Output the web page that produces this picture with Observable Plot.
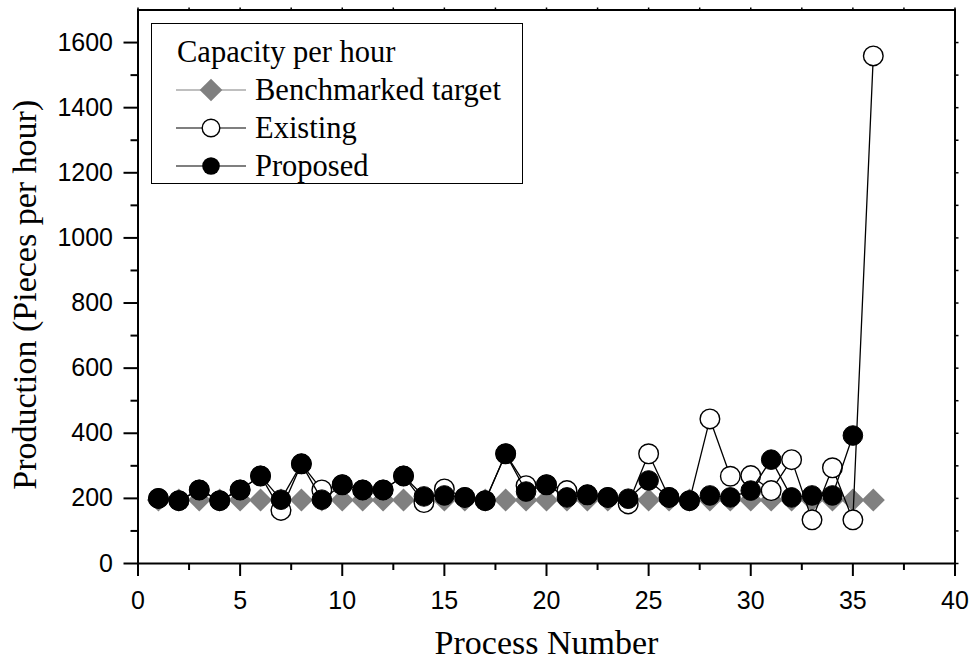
<!DOCTYPE html>
<html><head><meta charset="utf-8">
<script src="https://cdn.jsdelivr.net/npm/d3@7"></script>
<script src="https://cdn.jsdelivr.net/npm/@observablehq/plot@0.6"></script>
<style>
body{margin:0;background:#fff}
#wrap{position:relative;width:974px;height:662px;background:#fff}
#legend{position:absolute;left:151px;top:23px;width:372px;height:161px;border:1.5px solid #000;background:#fff;box-sizing:border-box;padding:9px 0 0 24px;font-family:"Liberation Serif","Times New Roman",serif;font-size:30.5px;color:#000}
.row{height:38px;line-height:38px;display:flex;align-items:center;white-space:nowrap}
.row svg{margin-right:9px;flex:none}
.title{padding-left:1px}
</style></head><body>
<div id="wrap"></div>
<script>
// ---- data ----
const processNumber = [1,2,3,4,5,6,7,8,9,10,11,12,13,14,15,16,17,18,19,20,21,22,23,24,25,26,27,28,29,30,31,32,33,34,35,36];
const benchmarked = [195,195,195,195,195,195,195,195,195,195,195,195,195,195,195,195,195,195,195,195,195,195,195,195,195,195,195,195,195,195,195,195,195,195,195,195];
const existing = [200,193,226,193,226,269,163,306,226,242,226,226,269,187,229,203,193,337,239,242,224,211,203,183,337,203,193,444,268,270,224,319,134,294,134,1559];
const proposedProcess = [1,2,3,4,5,6,7,8,9,10,11,12,13,14,15,16,17,18,19,20,21,22,23,24,25,26,27,28,29,30,31,32,33,34,35];
const proposed = [200,193,226,193,226,269,196,306,196,242,226,226,269,206,209,203,193,337,221,242,203,211,203,199,255,203,193,209,203,224,319,203,209,209,393];

const xTicks = [0,5,10,15,20,25,30,35,40];
const xTickLabels = ["0","5","10","15","20","25","30","35","40"];
const xMinorTicks = [2.5,7.5,12.5,17.5,22.5,27.5,32.5,37.5];
const yTicks = [0,200,400,600,800,1000,1200,1400,1600];
const yTickLabels = ["0","200","400","600","800","1000","1200","1400","1600"];
const yMinorTicks = [100,300,500,700,900,1100,1300,1500];

const xTitle = "Process Number";
const yTitle = "Production (Pieces per hour)";
const legendTitle = "Capacity per hour";
const seriesNames = ["Benchmarked target","Existing","Proposed"];

const benchData = processNumber.map((x,i)=>({x, y: benchmarked[i]}));
const existData = processNumber.map((x,i)=>({x, y: existing[i]}));
const propData = proposedProcess.map((x,i)=>({x, y: proposed[i]}));

const serif = "Liberation Serif, Times New Roman, serif";
const sans = "Liberation Sans, Arial, sans-serif";

const chart = Plot.plot({
  width: 974, height: 662,
  marginLeft: 137.5, marginRight: 19.5, marginTop: 9.5, marginBottom: 99,
  x: {domain: [0, 40]},
  y: {domain: [0, 1700]},
  style: {background: "white", fontFamily: sans, fontSize: "25px", color: "black", overflow: "visible"},
  marks: [
    Plot.axisX({ticks: xTicks, tickSize: 13, tickPadding: 15, strokeWidth: 2, fontSize: 25,
      tickFormat: d => xTickLabels[xTicks.indexOf(d)], label: null}),
    Plot.axisX({ticks: xMinorTicks, tickSize: 7, strokeWidth: 2, tickFormat: () => "", label: null}),
    Plot.axisY({ticks: yTicks, tickSize: 14, tickPadding: 11, strokeWidth: 2, fontSize: 25,
      tickFormat: d => yTickLabels[yTicks.indexOf(d)], label: null}),
    Plot.axisY({ticks: yMinorTicks, tickSize: 7, strokeWidth: 2, tickFormat: () => "", label: null}),
    Plot.axisX({anchor: "top", ticks: xTicks.concat(xMinorTicks), tickSize: 3, strokeWidth: 1.5, tickFormat: () => "", label: null}),
    Plot.axisY({anchor: "right", ticks: yTicks.concat(yMinorTicks), tickSize: 3, strokeWidth: 1.5, tickFormat: () => "", label: null}),
    Plot.frame({stroke: "black", strokeWidth: 2}),
    Plot.text([xTitle], {frameAnchor: "bottom", dy: 90, lineAnchor: "bottom", textAnchor: "middle", fontFamily: serif, fontSize: 34, fill: "black"}),
    Plot.text([yTitle], {frameAnchor: "left", rotate: -90, textAnchor: "middle", lineAnchor: "middle", dx: -113, dy: 8, fontFamily: serif, fontSize: 34, fill: "black"}),
    Plot.line(benchData, {x: "x", y: "y", stroke: "#808080", strokeWidth: 1}),
    Plot.dot(benchData, {x: "x", y: "y", symbol: "diamond2", r: 10.4, fill: "#808080", stroke: "none"}),
    Plot.line(existData, {x: "x", y: "y", stroke: "black", strokeWidth: 1.3}),
    Plot.dot(existData, {x: "x", y: "y", r: 9.8, fill: "white", stroke: "black", strokeWidth: 1.4}),
    Plot.line(propData, {x: "x", y: "y", stroke: "black", strokeWidth: 1.3}),
    Plot.dot(propData, {x: "x", y: "y", r: 9.8, fill: "black", stroke: "black", strokeWidth: 1})
  ]
});

const wrap = document.getElementById("wrap");
wrap.appendChild(chart);

// legend (HTML, drawn over the plot area like the reference)
const sym = [
  `<svg width="70" height="38"><line x1="0" x2="70" y1="19" y2="19" stroke="#808080" stroke-width="1.2"/><polygon points="35,7.7 46.3,19 35,30.3 23.7,19" fill="#808080"/></svg>`,
  `<svg width="70" height="38"><line x1="0" x2="70" y1="19" y2="19" stroke="#000" stroke-width="1.2"/><circle cx="35" cy="19" r="8.8" fill="#fff" stroke="#000" stroke-width="1.4"/></svg>`,
  `<svg width="70" height="38"><line x1="0" x2="70" y1="19" y2="19" stroke="#000" stroke-width="1.2"/><circle cx="35" cy="19" r="8.8" fill="#000"/></svg>`
];
const legend = document.createElement("div");
legend.id = "legend";
legend.innerHTML = `<div class="row title">${legendTitle}</div>` +
  seriesNames.map((n,i) => `<div class="row">${sym[i]}<span>${n}</span></div>`).join("");
wrap.appendChild(legend);
</script>
</body></html>
